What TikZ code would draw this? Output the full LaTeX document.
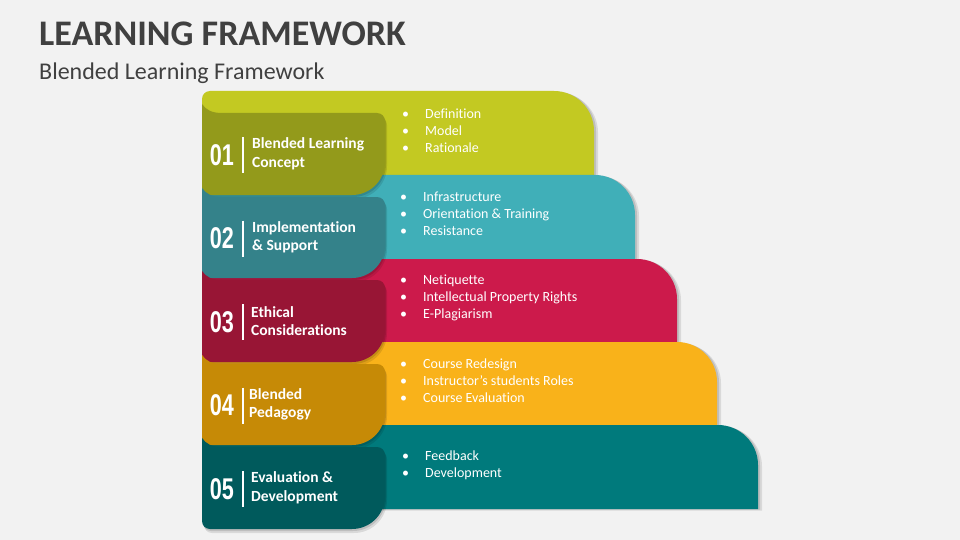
\documentclass[tikz,border=0pt]{standalone}
\usepackage{fontspec}
\setmainfont{Carlito}[RawFeature={-liga;-clig;-dlig}]
\newfontfamily\numfont{Liberation Sans}
\definecolor{bg}{HTML}{F2F2F2}
\definecolor{titlegray}{HTML}{404040}
\definecolor{bandA}{HTML}{C3C922}\definecolor{tabA}{HTML}{939A1B}
\definecolor{bandB}{HTML}{40AFB8}\definecolor{tabB}{HTML}{34828A}
\definecolor{bandC}{HTML}{CC1A4B}\definecolor{tabC}{HTML}{981535}
\definecolor{bandD}{HTML}{F9B21A}\definecolor{tabD}{HTML}{C68A06}
\definecolor{bandE}{HTML}{007A7C}\definecolor{tabE}{HTML}{005A5C}
% band: #1 colour, #2 top, #3 right, #4 bottom
\newcommand\bandshape[3]{(202,#3) -- (202,#1+8) .. controls (202,#1+3.6) and (205.6,#1) .. (210,#1) -- (#2-40,#1) .. controls (#2-18,#1) and (#2,#1+18) .. (#2,#1+40) -- (#2,#3) -- cycle}
\newcommand\drawband[4]{%
  \fill[black,opacity=.10,shift={(4,1.5)}] \bandshape{#2}{#3}{#4};
  \fill[black,opacity=.12,shift={(2,0.5)}] \bandshape{#2}{#3}{#4};
  \fill[#1] \bandshape{#2}{#3}{#4};}
% tab: #1 top, #2 bottom
\newcommand\tabshape[2]{(202,#1-9) .. controls (206,#1-3) and (212,#1) .. (222,#1) -- (377,#1) .. controls (381.4,#1) and (385,#1+3.6) .. (385,#1+8) -- (385,#2-33) .. controls (385,#2-14.8) and (370.2,#2) .. (352,#2) -- (210,#2) .. controls (205.6,#2) and (202,#2-3.6) .. (202,#2-8) -- cycle}
\newcommand\drawtab[3]{%
  \fill[black,opacity=.10,shift={(2,4)}] \tabshape{#2}{#3};
  \fill[black,opacity=.12,shift={(1,2)}] \tabshape{#2}{#3};
  \fill[#1] \tabshape{#2}{#3};}
\tikzset{
  numstyle/.style={text=white,inner sep=0,font=\numfont\bfseries\fontsize{30}{30}\selectfont},
  labelstyle/.style={text=white,inner sep=0,anchor=west,align=left,font=\bfseries\fontsize{15.5}{18.5}\selectfont},
  liststyle/.style={text=white,inner sep=0,anchor=west,align=left,font=\fontsize{14}{17}\selectfont},
  sepline/.style={white,line width=1.6pt}
}
\newcommand\bl[1]{\makebox[23pt][l]{\textbullet}#1}
\begin{document}
\begin{tikzpicture}[x=1pt,y=-1pt]
\useasboundingbox (0,0) rectangle (960,540);
\fill[bg] (0,0) rectangle (960,540);
\node[anchor=base west,inner sep=0,text=titlegray,font=\bfseries\fontsize{36}{40}\selectfont] (title) at (39,46) {LEARNING FRAMEWORK};
\node[anchor=base west,inner sep=0,text=titlegray,font=\fontsize{24}{28}\selectfont] (subtitle) at (39,80) {Blended Learning Framework};

\drawband{bandA}{91}{594}{200}
\drawband{bandB}{175}{635}{285}
\drawband{bandC}{259}{677}{370}
\drawband{bandD}{342}{717}{450}
\drawband{bandE}{425}{758}{509}

\drawtab{tabA}{113}{195}
\drawtab{tabB}{197}{278}
\drawtab{tabC}{280}{362}
\drawtab{tabD}{364}{445}
\drawtab{tabE}{447}{529}

\node[numstyle] (n1) at (222,155) {\scalebox{0.72}[1]{01}};
\node[numstyle] (n2) at (222,238.5) {\scalebox{0.72}[1]{02}};
\node[numstyle] (n3) at (222,322) {\scalebox{0.72}[1]{03}};
\node[numstyle] (n4) at (222,405.5) {\scalebox{0.72}[1]{04}};
\node[numstyle] (n5) at (222,489) {\scalebox{0.72}[1]{05}};

\foreach \yy in {155,238.5,322,405.5,489}{\draw[sepline] (243,\yy-18) -- (243,\yy+18);}

\node[labelstyle] (l1) at (252,154) {Blended Learning\\Concept};
\node[labelstyle] (l2) at (252,237.5) {Implementation\\\& Support};
\node[labelstyle] (l3) at (251,321) {Ethical\\Considerations};
\node[labelstyle] (l4) at (249,404.5) {Blended\\Pedagogy};
\node[labelstyle] (l5) at (251,488) {Evaluation \&\\Development};

\node[liststyle] (b1) at (402,131) {\bl{Definition}\\\bl{Model}\\\bl{Rationale}};
\node[liststyle] (b2) at (400,214) {\bl{Infrastructure}\\\bl{Orientation \& Training}\\\bl{Resistance}};
\node[liststyle] (b3) at (400,298) {\bl{Netiquette}\\\bl{Intellectual Property Rights}\\\bl{E-Plagiarism}};
\node[liststyle] (b4) at (400,381) {\bl{Course Redesign}\\\bl{Instructor’s students Roles}\\\bl{Course Evaluation}};
\node[liststyle] (b5) at (402,465.5) {\bl{Feedback}\\\bl{Development}};
\end{tikzpicture}
\end{document}
